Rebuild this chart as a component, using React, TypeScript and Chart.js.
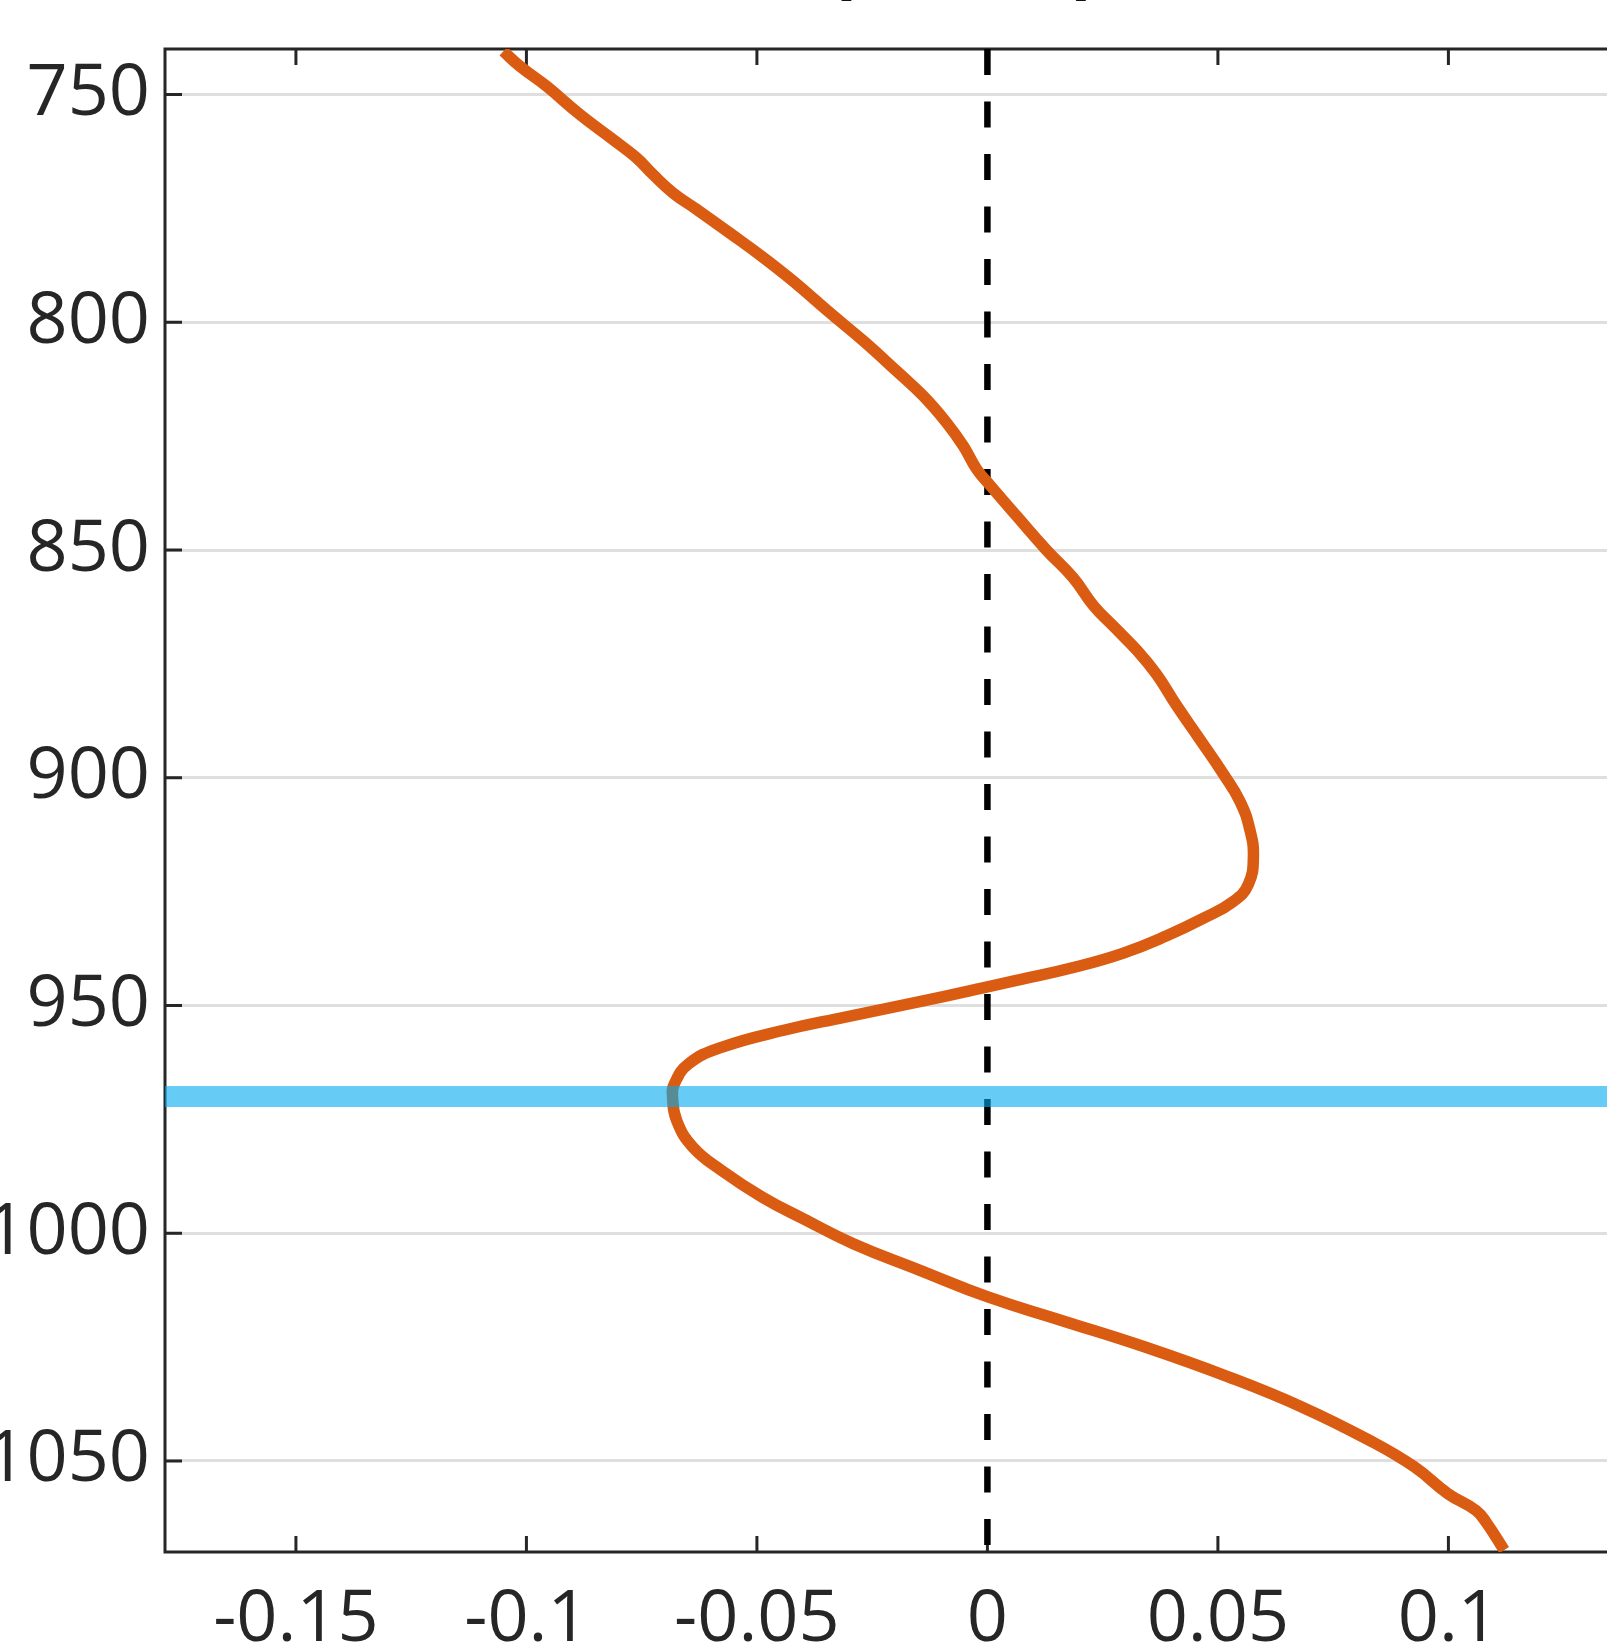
import { useEffect, useRef } from 'react';
import { Chart, registerables } from 'chart.js';

Chart.register(...registerables);

// ---- data ----
const pressureLevels = [
  740.5, 743.8, 748.2, 754.4, 759.9, 763.9, 767.6, 771.6, 775.2, 780.4,
  785.8, 791.0, 797.9, 804.1, 810.7, 816.2, 822.0, 827.2, 832.3, 835.7,
  842.5, 850.0, 856.1, 862.2, 866.7, 872.0, 877.3, 884.1, 891.6, 899.2,
  905.2, 911.3, 917.3, 923.4, 927.2, 930.9, 934.7, 938.5, 941.5, 944.5,
  945.9, 948.9, 952.6, 955.5, 959.2, 962.8, 967.2, 970.1, 975.3, 981.1,
  986.2, 992.1, 996.8, 1002.3, 1008.2, 1014.0, 1019.1, 1025.0, 1031.6, 1038.2,
  1045.5, 1051.3, 1057.2, 1060.9, 1063.8, 1069.6,
];
const profileValues = [
  -0.105, -0.1014, -0.0956, -0.0884, -0.0812, -0.0761, -0.0725, -0.0682, -0.0631, -0.0559,
  -0.0486, -0.0421, -0.0342, -0.0269, -0.0197, -0.0139, -0.0089, -0.0052, -0.0023, 0.0005,
  0.0063, 0.0128, 0.0186, 0.023, 0.0273, 0.0324, 0.0367, 0.041, 0.0461, 0.0512,
  0.0548, 0.0569, 0.0577, 0.0566, 0.0533, 0.0468, 0.0389, 0.0295, 0.0193, 0.0063,
  0.0, -0.0134, -0.0311, -0.0444, -0.0577, -0.0648, -0.0679, -0.0683, -0.0674, -0.0639,
  -0.0577, -0.0488, -0.04, -0.0291, -0.0145, 0.0001, 0.0159, 0.0342, 0.0524, 0.0683,
  0.0829, 0.0926, 0.0999, 0.106, 0.1084, 0.1121,
];
const xTickValues = [-0.15, -0.1, -0.05, 0, 0.05, 0.1, 0.15];
const xTickLabels = ['-0.15', '-0.1', '-0.05', '0', '0.05', '0.1', '0.15'];
const yTickValues = [750, 800, 850, 900, 950, 1000, 1050];
const yTickLabels = ['750', '800', '850', '900', '950', '1000', '1050'];
const xLimits = [-0.1784, 0.16];
const yLimits = [740, 1070];
const referenceLevel = [970];
const zeroValue = [0];
const titleText = 'ΔF (W/m²)';

// ---- layout / style ----
const OX = 100;
const OY = 40;
const W = 1925;
const H = 1720;
const AREA_LEFT = 265;
const AREA_TOP = 89;
const AREA_BOTTOM = 1592;
const AREA_RIGHT = 1825;
const AXIS_COLOR = '#262626';
const FONT = '"Open Sans", "Noto Sans", sans-serif';

const framePlugin = {
  id: 'matlabFrame',
  beforeDatasetsDraw(chart: any) {
    const { ctx, chartArea: a, scales } = chart;
    ctx.save();
    ctx.strokeStyle = AXIS_COLOR;
    ctx.lineWidth = 3;
    ctx.lineCap = 'butt';
    ctx.beginPath();
    for (const v of xTickValues) {
      const px = scales.x.getPixelForValue(v);
      if (px < a.left || px > a.right) continue;
      ctx.moveTo(px, a.bottom);
      ctx.lineTo(px, a.bottom - 16);
      ctx.moveTo(px, a.top);
      ctx.lineTo(px, a.top + 16);
    }
    for (const v of yTickValues) {
      const py = scales.y.getPixelForValue(v);
      ctx.moveTo(a.left, py);
      ctx.lineTo(a.left + 17, py);
      ctx.moveTo(a.right, py);
      ctx.lineTo(a.right - 17, py);
    }
    ctx.stroke();
    ctx.strokeRect(a.left, a.top, a.right - a.left, a.bottom - a.top);
    ctx.restore();
  },
};

const titlePlugin = {
  id: 'cutTitle',
  afterDraw(chart: any) {
    const { ctx } = chart;
    ctx.save();
    ctx.font = `bold 80px ${FONT}`;
    ctx.fillStyle = '#111111';
    ctx.textAlign = 'left';
    ctx.textBaseline = 'alphabetic';
    const idx = titleText.indexOf('(');
    const prefixW = ctx.measureText(titleText.slice(0, idx)).width;
    ctx.fillText(titleText, 827 + OX - prefixW, OY - 12);
    ctx.restore();
  },
};

export default function App() {
  const ref = useRef<HTMLCanvasElement>(null);

  useEffect(() => {
    if (!ref.current) return;
    const profile = pressureLevels.map((p, i) => ({ x: profileValues[i], y: p }));
    const refLine = [
      { x: xLimits[0], y: referenceLevel[0] },
      { x: xLimits[1], y: referenceLevel[0] },
    ];
    const zeroLine = [
      { x: zeroValue[0], y: yLimits[0] },
      { x: zeroValue[0], y: yLimits[1] },
    ];
    const chart = new Chart(ref.current, {
      type: 'line',
      data: {
        datasets: [
          {
            data: refLine,
            borderColor: 'rgba(0,170,238,0.6)',
            borderWidth: 21,
            pointRadius: 0,
            borderCapStyle: 'butt',
            order: 0,
          },
          {
            data: profile,
            borderColor: '#D95C12',
            borderWidth: 11.5,
            pointRadius: 0,
            tension: 0.45,
            borderCapStyle: 'butt',
            borderJoinStyle: 'round',
            order: 1,
          },
          {
            data: zeroLine,
            borderColor: '#000000',
            borderWidth: 6.5,
            borderDash: [26, 26.5],
            pointRadius: 0,
            borderCapStyle: 'butt',
            order: 2,
          },
        ],
      } as any,
      options: {
        animation: false,
        responsive: false,
        devicePixelRatio: 1,
        parsing: true,
        layout: { padding: { left: 0, top: AREA_TOP, right: W - AREA_RIGHT, bottom: 0 } },
        plugins: {
          legend: { display: false },
          tooltip: { enabled: false },
          title: { display: false },
        },
        scales: {
          x: {
            type: 'linear',
            position: 'bottom',
            min: xLimits[0],
            max: xLimits[1],
            grid: { display: false, drawTicks: false },
            border: { display: false },
            afterBuildTicks: (s: any) => {
              s.ticks = xTickValues.map((v) => ({ value: v }));
            },
            afterFit: (s: any) => {
              s.height = H - AREA_BOTTOM;
            },
            ticks: {
              autoSkip: false,
              maxRotation: 0,
              minRotation: 0,
              padding: 25,
              color: AXIS_COLOR,
              font: { family: FONT, size: 72 },
              callback: (_v: any, i: number) => xTickLabels[i],
            },
          },
          y: {
            type: 'linear',
            reverse: true,
            min: yLimits[0],
            max: yLimits[1],
            grid: { display: true, drawTicks: false, color: '#dfdfdf', lineWidth: 3 },
            border: { display: false },
            afterBuildTicks: (s: any) => {
              s.ticks = yTickValues.map((v) => ({ value: v }));
            },
            afterFit: (s: any) => {
              s.width = AREA_LEFT;
            },
            ticks: {
              autoSkip: false,
              padding: 15,
              color: AXIS_COLOR,
              font: { family: FONT, size: 72 },
              callback: (_v: any, i: number) => yTickLabels[i],
            },
          },
        },
      } as any,
      plugins: [framePlugin, titlePlugin],
    });
    return () => chart.destroy();
  }, []);

  return (
    <div
      style={{
        position: 'fixed',
        left: 0,
        top: 0,
        width: '100vw',
        height: '100vh',
        overflow: 'hidden',
        background: '#ffffff',
      }}
    >
      <canvas
        ref={ref}
        width={W}
        height={H}
        style={{ position: 'absolute', left: -OX, top: -OY, width: W, height: H }}
      />
    </div>
  );
}
